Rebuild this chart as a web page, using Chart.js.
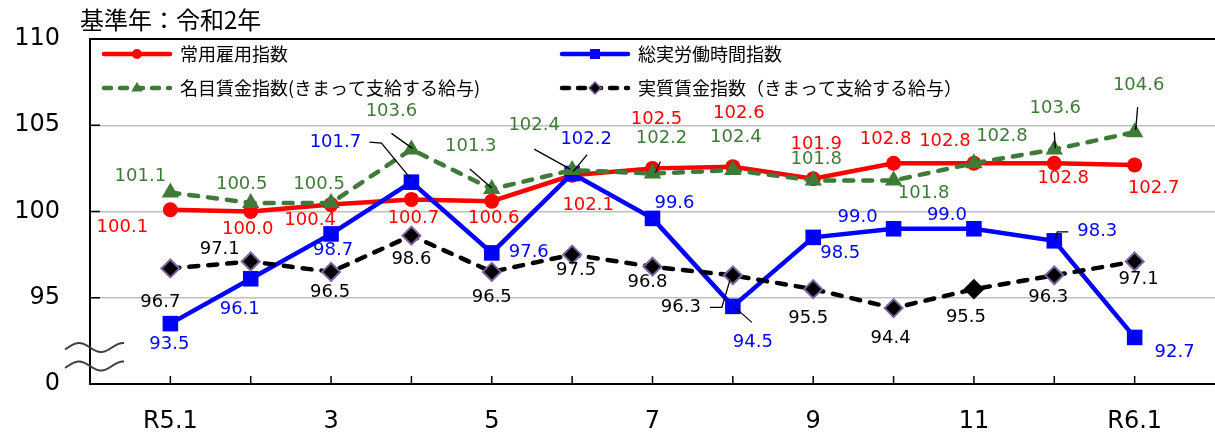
<!DOCTYPE html>
<html lang="ja">
<head>
<meta charset="utf-8">
<script src="https://cdn.jsdelivr.net/npm/chart.js@4.4.1/dist/chart.umd.min.js"></script>
<style>
html, body { margin: 0; padding: 0; background: #fff; overflow: hidden; }
#wrap { position: relative; width: 1215px; height: 433px; }
</style>
</head>
<body>
<div id="wrap"><canvas id="indexChart"></canvas></div>
<script>
// 指数の推移（基準年：令和2年）
const months = ['R5.1', '2', '3', '4', '5', '6', '7', '8', '9', '10', '11', '12', 'R6.1'];
const employment = [100.1, 100.0, 100.4, 100.7, 100.6, 102.1, 102.5, 102.6, 101.9, 102.8, 102.8, 102.8, 102.7];
const hours = [93.5, 96.1, 98.7, 101.7, 97.6, 102.2, 99.6, 94.5, 98.5, 99.0, 99.0, 98.3, 92.7];
const nominalWage = [101.1, 100.5, 100.5, 103.6, 101.3, 102.4, 102.2, 102.4, 101.8, 101.8, 102.8, 103.6, 104.6];
const realWage = [96.7, 97.1, 96.5, 98.6, 96.5, 97.5, 96.8, 96.3, 95.5, 94.4, 95.5, 96.3, 97.1];
const yTicks = [90, 95, 100, 105, 110];
const yTickLabels = ['0', '95', '100', '105', '110'];

const RED = '#FF0000';
const BLUE = '#0000FF';
const GREEN = '#3F7A38';
const PURPLE = '#8064A2';
const NUM_FONT = '"DejaVu Sans", "Noto Sans CJK JP", sans-serif';
const JP_FONT = '"Noto Sans CJK JP", "DejaVu Sans", sans-serif';

// label offsets from each point (px)
const redOffsets = [[-48, 18], [-3, 18], [-21, 16], [2, 19], [2, 17], [16, 30], [4, -49], [6, -53], [3, -34], [-8, -24], [-29, -22], [9, 15], [19, 23]];
const blueOffsets = [[-1, 21], [-11, 31], [2, 16], [-76, -40], [37, -1], [14, -34], [22, -15], [20, 36], [27, 16], [-36, -11], [-27, -13], [43, -9], [40, 15]];
const greenOffsets = [[-30, -16], [-9, -19], [-12, -19], [-20, -38], [-21, -43], [-38, -45], [9, -35], [3, -33], [3, -21], [30, 13], [28, -27], [1, -41], [4, -47]];
const blackOffsets = [[-10, 34], [-31, -12], [-1, 20], [0, 24], [0, 25], [4, 16], [-5, 16], [-52, 32], [-5, 29], [-3, 30], [-8, 28], [-6, 22], [4, 18]];

// leader lines: dataset index, point index, points relative to the point
const leaderLines = [
    { ds: 1, i: 3, pts: [[-42, -40], [-30, -39], [-2, -5]] },
    { ds: 1, i: 5, pts: [[15, -19], [1, -2]] },
    { ds: 1, i: 7, pts: [[2, 1], [19, 16]] },
    { ds: 1, i: 11, pts: [[1, -1], [3, -9], [14, -9]] },
    { ds: 2, i: 3, pts: [[-20, -16], [1, -1]] },
    { ds: 2, i: 4, pts: [[-22, -20], [0, -1]] },
    { ds: 2, i: 5, pts: [[-38, -21], [-2, -1]] },
    { ds: 2, i: 6, pts: [[8, -12], [3, -1]] },
    { ds: 2, i: 11, pts: [[0, -17], [1, -1]] },
    { ds: 2, i: 12, pts: [[3, -25], [1, -2]] },
    { ds: 3, i: 7, pts: [[-23, 32], [-11, 32], [-3, 5]] }
];

const toPoints = arr => arr.map((v, i) => ({ x: i + 1, y: v }));

function drawMarker(ctx, style, x, y, r, fill, stroke) {
    ctx.save();
    ctx.setLineDash([]);
    ctx.fillStyle = fill;
    ctx.beginPath();
    if (style === 'circle') {
        ctx.arc(x, y, r, 0, Math.PI * 2);
    } else if (style === 'rect') {
        ctx.rect(x - r, y - r, 2 * r, 2 * r);
    } else if (style === 'triangle') {
        ctx.moveTo(x, y - r);
        ctx.lineTo(x + r * 0.95, y + r * 0.6);
        ctx.lineTo(x - r * 0.95, y + r * 0.6);
        ctx.closePath();
    } else {
        ctx.moveTo(x, y - r);
        ctx.lineTo(x + r, y);
        ctx.lineTo(x, y + r);
        ctx.lineTo(x - r, y);
        ctx.closePath();
    }
    ctx.fill();
    if (stroke) {
        ctx.strokeStyle = stroke;
        ctx.lineWidth = 1.5;
        ctx.stroke();
    }
    ctx.restore();
}

const decorations = {
    id: 'decorations',
    afterDraw(chart) {
        const ctx = chart.ctx;
        const xs = chart.scales.x;
        const ys = chart.scales.y;
        const area = chart.chartArea;
        ctx.save();

        // inside tick marks
        ctx.strokeStyle = '#000';
        ctx.lineWidth = 1.5;
        ctx.beginPath();
        [95, 100, 105].forEach(v => {
            const y = ys.getPixelForValue(v);
            ctx.moveTo(area.left, y);
            ctx.lineTo(area.left + 10, y);
        });
        months.forEach((m, i) => {
            const x = xs.getPixelForValue(i + 1);
            ctx.moveTo(x, area.bottom);
            ctx.lineTo(x, area.bottom - 8);
        });
        ctx.stroke();

        // axis break marks
        ctx.strokeStyle = '#404040';
        ctx.lineWidth = 2;
        [347.5, 366].forEach(mid => {
            ctx.beginPath();
            for (let x = 65; x <= 124; x++) {
                const y = mid - 4.5 * Math.cos(2 * Math.PI * (x - 79) / 44);
                if (x === 65) ctx.moveTo(x, y); else ctx.lineTo(x, y);
            }
            ctx.stroke();
        });

        // leader lines
        ctx.strokeStyle = '#000';
        ctx.lineWidth = 1.3;
        leaderLines.forEach(l => {
            const p = chart.getDatasetMeta(l.ds).data[l.i];
            ctx.beginPath();
            l.pts.forEach(([dx, dy], j) => {
                if (j === 0) ctx.moveTo(p.x + dx, p.y + dy); else ctx.lineTo(p.x + dx, p.y + dy);
            });
            ctx.stroke();
        });

        // data labels
        ctx.font = '18px ' + NUM_FONT;
        ctx.textAlign = 'center';
        ctx.textBaseline = 'middle';
        chart.data.datasets.forEach((ds, di) => {
            const meta = chart.getDatasetMeta(di);
            meta.data.forEach((p, i) => {
                const [dx, dy] = ds.labelOffsets[i];
                ctx.fillStyle = ds.labelColor;
                ctx.fillText(ds.data[i].y.toFixed(1), p.x + dx, p.y + dy);
            });
        });

        // title
        ctx.font = '24px ' + JP_FONT;
        ctx.textAlign = 'left';
        ctx.fillStyle = '#000';
        ctx.fillText('基準年：令和2年', 80, 20);

        // legend
        const legendItems = [
            { ds: 0, x: 102, y: 54 },
            { ds: 1, x: 560, y: 54 },
            { ds: 2, x: 102, y: 88 },
            { ds: 3, x: 560, y: 88 }
        ];
        legendItems.forEach(item => {
            const ds = chart.data.datasets[item.ds];
            ctx.save();
            ctx.strokeStyle = ds.borderColor;
            ctx.lineWidth = 4.5;
            ctx.lineCap = 'round';
            ctx.setLineDash(ds.borderDash ? [7, 9] : []);
            ctx.beginPath();
            ctx.moveTo(item.x + 2, item.y);
            ctx.lineTo(item.x + 68, item.y);
            ctx.stroke();
            ctx.restore();
            drawMarker(ctx, ds.pointStyle, item.x + 35, item.y, ds.legendMarker, ds.pointBackgroundColor, ds.legendStroke);
            ctx.font = '18px ' + JP_FONT;
            ctx.fillStyle = '#000';
            ctx.textAlign = 'left';
            ctx.fillText(ds.label, item.x + 78, item.y);
        });

        ctx.restore();
    }
};

const canvas = document.getElementById('indexChart');
new Chart(canvas, {
    type: 'line',
    data: {
        datasets: [
            {
                label: '常用雇用指数',
                data: toPoints(employment),
                borderColor: RED,
                backgroundColor: RED,
                pointBackgroundColor: RED,
                pointBorderColor: RED,
                borderWidth: 4.5,
                pointStyle: 'circle',
                pointRadius: 7.5,
                pointBorderWidth: 0,
                order: 4,
                labelColor: RED,
                labelOffsets: redOffsets,
                legendMarker: 5
            },
            {
                label: '総実労働時間指数',
                data: toPoints(hours),
                borderColor: BLUE,
                backgroundColor: BLUE,
                pointBackgroundColor: BLUE,
                pointBorderColor: BLUE,
                borderWidth: 4.5,
                pointStyle: 'rect',
                pointRadius: 11,
                pointBorderWidth: 0,
                order: 3,
                labelColor: BLUE,
                labelOffsets: blueOffsets,
                legendMarker: 5
            },
            {
                label: '名目賃金指数(きまって支給する給与)',
                data: toPoints(nominalWage),
                borderColor: GREEN,
                backgroundColor: GREEN,
                pointBackgroundColor: GREEN,
                pointBorderColor: GREEN,
                borderWidth: 4.5,
                borderDash: [9, 10],
                borderCapStyle: 'round',
                pointStyle: 'triangle',
                pointRadius: 10,
                pointBorderWidth: 0,
                order: 2,
                labelColor: GREEN,
                labelOffsets: greenOffsets,
                legendMarker: 6
            },
            {
                label: '実質賃金指数（きまって支給する給与）',
                data: toPoints(realWage),
                borderColor: '#000',
                backgroundColor: '#000',
                pointBackgroundColor: '#000',
                pointBorderColor: realWage.map((v, i) => i === 10 ? '#000' : PURPLE),
                borderWidth: 4.5,
                borderDash: [9, 10],
                borderCapStyle: 'round',
                pointStyle: 'rectRot',
                pointRadius: 9,
                pointBorderWidth: 2,
                order: 1,
                labelColor: '#000',
                labelOffsets: blackOffsets,
                legendMarker: 6,
                legendStroke: PURPLE
            }
        ]
    },
    options: {
        responsive: true,
        maintainAspectRatio: false,
        animation: false,
        devicePixelRatio: 1,
        layout: { autoPadding: false, padding: { left: 0, right: 0, top: 39, bottom: 0 } },
        elements: { line: { tension: 0 } },
        plugins: {
            legend: { display: false },
            tooltip: { enabled: false }
        },
        scales: {
            x: {
                type: 'linear',
                min: 0,
                max: 14,
                afterBuildTicks: scale => { scale.ticks = months.map((m, i) => ({ value: i + 1 })); },
                afterFit: scale => {
                    scale.height = 49;
                    scale.paddingLeft = 0;
                    scale.paddingRight = 0;
                },
                ticks: {
                    autoSkip: false,
                    maxRotation: 0,
                    padding: 23,
                    color: '#000',
                    font: { family: NUM_FONT, size: 24 },
                    callback: value => ((value - 1) % 2 === 0 ? months[value - 1] : '')
                },
                grid: { display: false, drawTicks: false },
                border: { color: '#000', width: 2 }
            },
            y: {
                min: 90,
                max: 110,
                afterBuildTicks: scale => { scale.ticks = yTicks.map(v => ({ value: v })); },
                afterFit: scale => {
                    scale.width = 90;
                    scale.paddingTop = 0;
                    scale.paddingBottom = 0;
                },
                ticks: {
                    padding: 30,
                    color: '#000',
                    font: { family: NUM_FONT, size: 24 },
                    callback: value => yTickLabels[yTicks.indexOf(value)]
                },
                grid: {
                    drawTicks: false,
                    color: ctx => ctx.tick.value === 110 ? '#000' : (ctx.tick.value === 90 ? 'rgba(0,0,0,0)' : '#BFBFBF'),
                    lineWidth: ctx => ctx.tick.value === 110 ? 2 : 1.5
                },
                border: { color: '#000', width: 2 }
            }
        }
    },
    plugins: [decorations]
});
</script>
</body>
</html>
